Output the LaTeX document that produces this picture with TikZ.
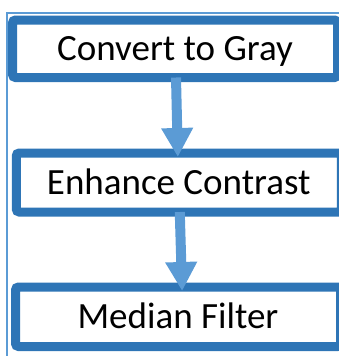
\documentclass[tikz,border=0pt]{standalone}
\usepackage{fontspec}
\setmainfont{Carlito}
\usepackage{xcolor}
\usetikzlibrary{positioning,arrows.meta}
\definecolor{boxblue}{HTML}{2E75B6}
\definecolor{arrowblue}{HTML}{5B9BD5}
\begin{document}
\begin{tikzpicture}[x=1pt,y=-1pt,
        procbox/.style={draw=boxblue,fill=white,line width=9pt,rounded corners=3pt,
          inner sep=0pt,outer sep=0pt,minimum width=325pt,
          text height=23.8pt,text depth=0pt,
          font=\fontsize{37}{40}\selectfont},
        flowarrow/.style={draw=arrowblue,line width=10pt,
          -{Triangle[width=30pt,length=29pt]}}]
        \useasboundingbox (0,0) rectangle (339,356);
        \draw[arrowblue,line width=1.2pt] (339,13) -- (7,13) -- (7,356);
        \node[procbox,minimum height=57.5pt] (gray) at (175,48.75) {Convert to Gray};
        \node[procbox,minimum height=59pt] (contrast) at (178.75,182.5) {Enhance Contrast};
        \node[procbox,minimum height=59.5pt] (median) at (178,316.75) {Median Filter};
        \draw[flowarrow,shorten >=-4pt] ([xshift=1pt]gray.south) -- ([xshift=-1pt]contrast.north);
        \draw[flowarrow,shorten >=-4pt] ([xshift=1pt]contrast.south) -- ([xshift=4pt]median.north);
      \end{tikzpicture}
\end{document}
